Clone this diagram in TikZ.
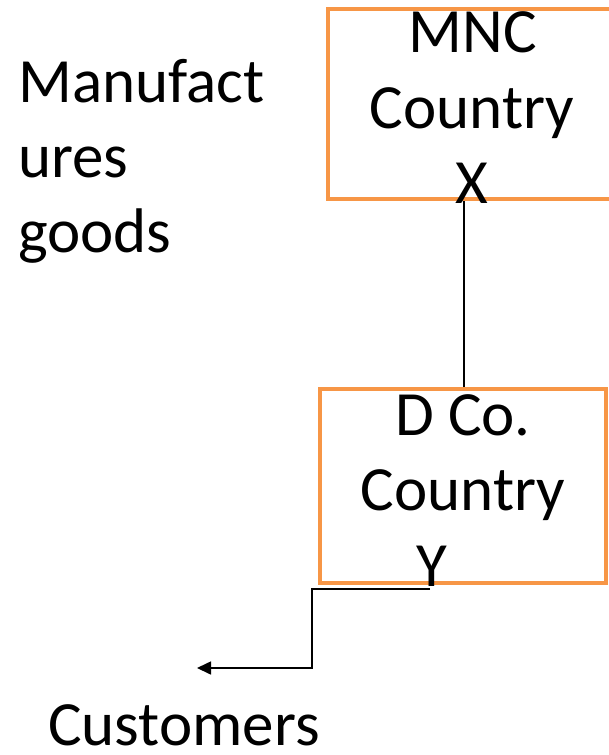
\documentclass[tikz,border=0pt]{standalone}
\usepackage{fontspec}
\setmainfont{Carlito}
\usetikzlibrary{arrows.meta}
\definecolor{boxorange}{HTML}{F79646}
\begin{document}
\begin{tikzpicture}[x=1pt,y=1pt,
  box/.style={draw=boxorange,line width=4pt,rectangle,inner sep=0pt},
  txt/.style={inner sep=0pt,anchor=base,font=\fontsize{63}{75}\selectfont},
  ltxt/.style={inner sep=0pt,anchor=base west,font=\fontsize{63}{75}\selectfont},
  conn/.style={draw=black,line width=1.6pt}]
\useasboundingbox (0,0) rectangle (608,-755);
\node[box,minimum width=296pt,minimum height=190pt] (mnc) at (476,-104) {};
\node[box,minimum width=286pt,minimum height=194pt] (dco) at (463,-486) {};
\node[txt] (t1) at (473,-52) {MNC};
\node[txt] (t2) at (472,-128) {Country};
\node[txt] (t3) at (472,-203) {X};
\node[txt] (d1) at (463,-435) {D Co.};
\node[txt] (d2) at (463,-510) {Country};
\node[txt] (d3) at (432,-586) {Y};
\node[ltxt] (m1) at (18,-102) {Manufact};
\node[ltxt] (m2) at (18,-177) {ures};
\node[ltxt] (m3) at (18,-252) {goods};
\node[ltxt] (cust) at (48,-745) {Customers};
\draw[conn] (dco.north -| 464,0) -- (mnc.south -| 464,0);
\coordinate (s) at (430,-589);
\coordinate (bend1) at (312,-589);
\coordinate (bend2) at (312,-668);
\coordinate (tip) at (197,-668);
\draw[conn,-{Triangle[length=14pt,width=13pt]}] (s) -- (bend1) -- (bend2) -- (tip);
\end{tikzpicture}
\end{document}
